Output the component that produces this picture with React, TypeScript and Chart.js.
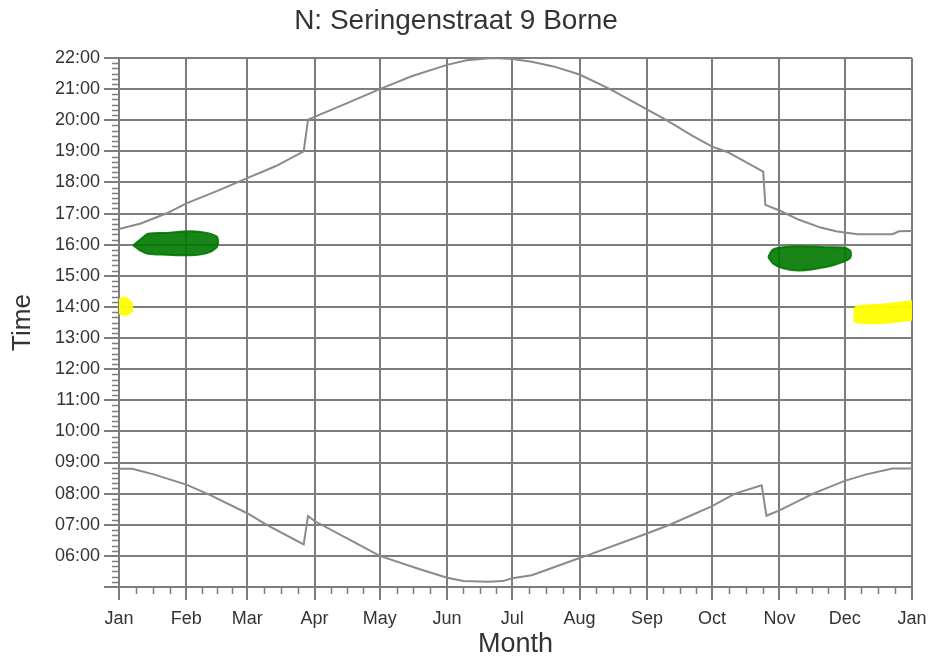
import React, { useEffect, useRef } from 'react';
import { Chart, registerables } from 'chart.js';

Chart.register(...registerables);

// ---- Data ----
const chartTitle = 'N: Seringenstraat 9 Borne';
const monthLabels = ['Jan', 'Feb', 'Mar', 'Apr', 'May', 'Jun', 'Jul', 'Aug', 'Sep', 'Oct', 'Nov', 'Dec', 'Jan'];
const monthStartDays = [0, 31, 59, 90, 120, 151, 181, 212, 243, 273, 304, 334, 365];

// Sunset (day of year, decimal hour)
const sunsetDays = [0, 10, 22, 31, 45, 59, 72, 85, 87, 90, 105, 120, 135, 151, 160, 172, 181, 190, 200, 212, 226, 243, 252, 264, 273, 280, 296.5, 297.5, 304, 313, 323, 330, 334, 340, 356, 359, 365];
const sunsetHours = [16.5, 16.68, 17.01, 17.33, 17.72, 18.14, 18.52, 19.0, 20.02, 20.11, 20.55, 21.0, 21.42, 21.78, 21.93, 22.0, 21.97, 21.88, 21.73, 21.47, 21.0, 20.35, 20.0, 19.5, 19.15, 18.98, 18.35, 17.28, 17.1, 16.8, 16.55, 16.43, 16.39, 16.34, 16.34, 16.43, 16.44];

// Sunrise (day of year, decimal hour)
const sunriseDays = [0, 6, 16, 31, 42, 59, 68, 85, 87, 90, 108, 120, 138.5, 151, 158.5, 170, 176.7, 181, 190, 212, 215, 243, 253.5, 273, 283.5, 295.8, 298, 304, 319.5, 334, 344, 356, 365];
const sunriseHours = [8.8, 8.8, 8.62, 8.29, 7.95, 7.37, 7.0, 6.37, 7.28, 7.12, 6.45, 6.0, 5.57, 5.3, 5.19, 5.17, 5.19, 5.28, 5.38, 5.93, 6.0, 6.72, 7.0, 7.6, 8.0, 8.27, 7.29, 7.46, 8.0, 8.41, 8.62, 8.81, 8.81];

// Shadow periods (green)
const greenADays = [6.6, 9.7, 13.5, 21.9, 32.7, 40.4, 45.0, 45.7];
const greenATop = [15.98, 16.16, 16.35, 16.38, 16.43, 16.38, 16.26, 16.11];
const greenABottom = [15.98, 15.82, 15.71, 15.68, 15.66, 15.73, 15.92, 16.11];

const greenBDays = [298.8, 301, 305.7, 313.4, 325.7, 333.3, 336.4, 337];
const greenBTop = [15.61, 15.84, 15.92, 15.95, 15.92, 15.91, 15.82, 15.7];
const greenBBottom = [15.61, 15.4, 15.24, 15.17, 15.29, 15.45, 15.56, 15.7];

// Shadow periods (yellow)
const yellowADays = [0, 3, 6.5];
const yellowATop = [14.24, 14.3, 14.07];
const yellowABottom = [13.8, 13.75, 13.88];

const yellowBDays = [338, 340, 350, 365];
const yellowBTop = [13.91, 14.02, 14.07, 14.18];
const yellowBBottom = [13.59, 13.5, 13.48, 13.59];

// ---- Styles ----
const FONT = "'Liberation Sans', Arial, sans-serif";
const TEXT = '#333333';
const GRID = '#7d7d7d';
const CURVE = '#8a8a8a';
const GREEN = 'rgba(0,120,0,0.9)';
const YELLOW = 'rgba(255,255,0,0.95)';

const pts = (xs: number[], ys: number[]) => xs.map((x, i) => ({ x, y: ys[i] }));
const pad2 = (n: number) => (n < 10 ? '0' : '') + n;

const minorTicks = {
  id: 'minorTicks',
  afterDraw(chart: any) {
    const { ctx, chartArea } = chart;
    const x = chart.scales.x;
    const y = chart.scales.y;
    ctx.save();
    ctx.strokeStyle = GRID;
    ctx.lineWidth = 1.5;
    ctx.beginPath();
    for (let m = 0; m < monthStartDays.length - 1; m++) {
      const a = monthStartDays[m];
      const b = monthStartDays[m + 1];
      for (let k = 1; k < 4; k++) {
        const px = Math.round(x.getPixelForValue(a + ((b - a) * k) / 4)) + 0.5;
        ctx.moveTo(px, chartArea.bottom);
        ctx.lineTo(px, chartArea.bottom + 7);
      }
    }
    for (let h = 5; h < 22; h++) {
      for (let k = 1; k < 6; k++) {
        const py = Math.round(y.getPixelForValue(h + k / 6)) + 0.5;
        ctx.moveTo(chartArea.left - 7, py);
        ctx.lineTo(chartArea.left, py);
      }
    }
    ctx.stroke();
    ctx.restore();
  },
};

function band(xs: number[], top: number[], bottom: number[], color: string) {
  return [
    {
      data: pts(xs, top),
      borderColor: color,
      backgroundColor: color,
      borderWidth: 2,
      pointRadius: 0,
      fill: '+1',
      tension: 0.3,
    },
    {
      data: pts(xs, bottom),
      borderColor: color,
      backgroundColor: color,
      borderWidth: 2,
      pointRadius: 0,
      fill: false,
      tension: 0.3,
    },
  ];
}

export default function App() {
  const ref = useRef<HTMLCanvasElement>(null);

  useEffect(() => {
    if (!ref.current) return;
    const chart = new Chart(ref.current, {
      type: 'line',
      data: {
        datasets: [
          ...band(greenADays, greenATop, greenABottom, GREEN),
          ...band(greenBDays, greenBTop, greenBBottom, GREEN),
          ...band(yellowADays, yellowATop, yellowABottom, YELLOW),
          ...band(yellowBDays, yellowBTop, yellowBBottom, YELLOW),
          {
            data: pts(sunsetDays, sunsetHours),
            borderColor: CURVE,
            borderWidth: 2,
            pointRadius: 0,
            fill: false,
          },
          {
            data: pts(sunriseDays, sunriseHours),
            borderColor: CURVE,
            borderWidth: 2,
            pointRadius: 0,
            fill: false,
          },
        ] as any,
      },
      options: {
        responsive: false,
        animation: false,
        layout: { padding: { left: 0, right: 21, top: 0, bottom: 0 } },
        plugins: {
          legend: { display: false },
          tooltip: { enabled: false },
          title: {
            display: true,
            text: chartTitle,
            color: TEXT,
            font: { family: FONT, size: 28, weight: 'normal' },
            padding: { top: 4, bottom: 20.4 },
          },
        },
        scales: {
          x: {
            type: 'linear',
            min: 0,
            max: 365,
            afterBuildTicks: (s: any) => {
              s.ticks = monthStartDays.map((v) => ({ value: v }));
            },
            afterFit: (s: any) => {
              s.height = 74;
              s.paddingRight = 0;
              s.paddingLeft = 0;
            },
            ticks: {
              autoSkip: false,
              maxRotation: 0,
              padding: 8,
              color: TEXT,
              font: { family: FONT, size: 18 },
              callback: (_v: any, i: number) => monthLabels[i],
            },
            grid: { color: GRID, lineWidth: 2, tickLength: 13 },
            border: { color: GRID, width: 2 },
            title: {
              display: true,
              text: 'Month',
              color: TEXT,
              font: { family: FONT, size: 27 },
              padding: { top: 2, bottom: 0 },
            },
          },
          y: {
            type: 'linear',
            min: 5,
            max: 22,
            afterFit: (s: any) => {
              s.width = 119;
            },
            ticks: {
              stepSize: 1,
              autoSkip: false,
              padding: 4,
              color: TEXT,
              font: { family: FONT, size: 18 },
              callback: (v: any) => (v === 5 ? '' : pad2(v) + ':00'),
            },
            grid: { color: GRID, lineWidth: 2, tickLength: 15 },
            border: { color: GRID, width: 2 },
            title: {
              display: true,
              text: 'Time',
              color: TEXT,
              font: { family: FONT, size: 26 },
              padding: { top: 7, bottom: 0 },
            },
          },
        },
      } as any,
      plugins: [minorTicks],
    });
    return () => chart.destroy();
  }, []);

  return (
    <div style={{ position: 'absolute', left: 0, top: 0, width: 933, height: 661, background: '#fff' }}>
      <canvas ref={ref} width={933} height={661} style={{ display: 'block' }} />
    </div>
  );
}
